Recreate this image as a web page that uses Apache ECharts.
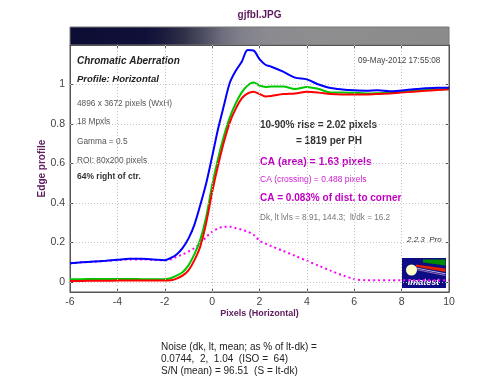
<!DOCTYPE html>
<html><head><meta charset="utf-8">
<script src="https://cdn.jsdelivr.net/npm/echarts@6/dist/echarts.min.js"></script>
<style>html,body{margin:0;padding:0;background:#fff}#c{width:500px;height:384px}</style>
</head><body><div id="c"></div>
<script>
// Data
const xs = [-6,-5.5,-5,-4.5,-4,-3.5,-3,-2.5,-2,-1.75,-1.5,-1.25,-1,-0.75,-0.5,-0.25,0,0.25,0.5,0.75,1,1.25,1.5,1.75,2,2.25,2.5,3,3.5,4,4.5,5,5.5,6,6.5,7,7.5,8,8.5,9,9.5,10];
const blue = [0.095,0.1,0.104,0.108,0.113,0.118,0.118,0.115,0.111,0.122,0.14,0.172,0.22,0.29,0.39,0.5,0.635,0.775,0.895,1.01,1.07,1.115,1.175,1.172,1.128,1.1,1.09,1.065,1.035,1.026,1.0,0.982,0.975,0.971,0.969,0.971,0.966,0.97,0.976,0.981,0.984,0.984];
const green = [0.015,0.015,0.016,0.016,0.016,0.016,0.015,0.014,0.015,0.02,0.033,0.05,0.085,0.14,0.215,0.33,0.49,0.625,0.74,0.835,0.905,0.96,0.995,1.01,0.995,0.988,0.99,0.99,0.977,0.988,0.977,0.96,0.96,0.958,0.955,0.956,0.958,0.962,0.968,0.972,0.976,0.976];
const red = [0.006,0.006,0.007,0.007,0.008,0.008,0.008,0.008,0.008,0.009,0.018,0.033,0.06,0.11,0.18,0.3,0.455,0.59,0.71,0.81,0.878,0.93,0.955,0.964,0.952,0.94,0.942,0.952,0.955,0.963,0.959,0.952,0.95,0.95,0.95,0.952,0.955,0.959,0.964,0.968,0.972,0.976];
const magenta = [0.095,0.1,0.103,0.107,0.111,0.115,0.115,0.113,0.11,0.115,0.128,0.14,0.155,0.172,0.196,0.228,0.255,0.272,0.28,0.28,0.273,0.265,0.255,0.24,0.21,0.195,0.182,0.158,0.133,0.108,0.083,0.058,0.035,0.015,0.01,0.01,0.01,0.01,0.01,0.01,0.01,0.01];
const xTicks = [-6,-4,-2,0,2,4,6,8,10];
const yTicks = [0,0.2,0.4,0.6,0.8,1];
const yTickLabels = ['0','0.2','0.4','0.6','0.8','1'];
const gridX = [-4,-2,0,2,4,6,8];

const FONT = '"Liberation Sans", Arial, sans-serif';
const chart = echarts.init(document.getElementById('c'), null, {renderer:'canvas'});
const pair = arr => xs.map((x,i)=>[x, arr[i]]);
const axisCol = '#555';
const gridLine = {color:'#c4c4c4', width:1, type:[1,2]};

const txt = (x,y,text,opt) => ({type:'text', x, y, silent:true, style:Object.assign({text, fontFamily:FONT, fontSize:8, fill:'#444', verticalAlign:'middle', textAlign:'left'}, opt||{})});

chart.setOption({
  animation:false,
  backgroundColor:'#fff',
  grid:{left:70, top:45, width:379, height:247, show:true, borderColor:axisCol, borderWidth:1, containLabel:false},
  xAxis:[
    {type:'value', min:-6, max:10, interval:2, position:'bottom',
     axisLine:{show:true, onZero:false, lineStyle:{color:axisCol}},
     axisTick:{show:true, inside:true, length:4, lineStyle:{color:axisCol}},
     axisLabel:{color:'#444', fontSize:10.5, fontFamily:FONT, margin:5},
     splitLine:{show:false}},
    {type:'value', min:-6, max:10, interval:2, position:'top',
     axisLine:{show:true, onZero:false, lineStyle:{color:axisCol}},
     axisTick:{show:true, inside:true, length:4, lineStyle:{color:axisCol}},
     axisLabel:{show:false}, splitLine:{show:false}}
  ],
  yAxis:[
    {type:'value', min:-0.05, max:1.2, position:'left',
     axisLine:{show:true, onZero:false, lineStyle:{color:axisCol}},
     axisTick:{show:true, inside:true, length:4, customValues:yTicks, lineStyle:{color:axisCol}},
     axisLabel:{color:'#444', fontSize:10.5, fontFamily:FONT, margin:5, customValues:yTicks,
       formatter:v=>{const i=yTicks.findIndex(t=>Math.abs(t-v)<1e-9); return i>=0?yTickLabels[i]:'';}},
     splitLine:{show:false}},
    {type:'value', min:-0.05, max:1.2, position:'right',
     axisLine:{show:true, onZero:false, lineStyle:{color:axisCol}},
     axisTick:{show:true, inside:true, length:4, customValues:yTicks, lineStyle:{color:axisCol}},
     axisLabel:{show:false}, splitLine:{show:false}}
  ],
  series:[
    {type:'line', name:'grid', data:[], silent:true, z:1,
     markLine:{silent:true, symbol:'none', label:{show:false}, lineStyle:gridLine, emphasis:{disabled:true},
       data:[...yTicks.map(v=>({yAxis:v})), ...gridX.map(v=>({xAxis:v}))]}},
    {type:'line', name:'crossing', data:pair(magenta), showSymbol:false, smooth:0.3, z:2,
     lineStyle:{color:'#ff00ff', width:2, type:[2,3]}},
    {type:'line', name:'green', data:pair(green), showSymbol:false, smooth:0.3, z:3,
     lineStyle:{color:'#00c800', width:2}},
    {type:'line', name:'red', data:pair(red), showSymbol:false, smooth:0.3, z:4,
     lineStyle:{color:'#ff0000', width:2}},
    {type:'line', name:'blue', data:pair(blue), showSymbol:false, smooth:0.3, z:5,
     lineStyle:{color:'#0000ff', width:2}}
  ],
  graphic:[
    // edge image strip above the plot
    {type:'rect', shape:{x:70, y:27, width:379, height:18}, silent:true,
     style:{stroke:'#777', lineWidth:1, fill:new echarts.graphic.LinearGradient(0,0,1,0,[
       {offset:0,color:'#0d0d33'},{offset:0.2,color:'#10103a'},{offset:0.25,color:'#1c1c3e'},
       {offset:0.3,color:'#30304a'},{offset:0.35,color:'#4c4c60'},{offset:0.4,color:'#6c6c7c'},
       {offset:0.45,color:'#80808c'},{offset:0.52,color:'#8a8a90'},{offset:0.65,color:'#8e8e90'},{offset:1,color:'#8b8b8b'}])}},
    txt(259.5, 15.5, 'gjfbl.JPG', {textAlign:'center', fontSize:10, fontWeight:'bold', fill:'#5c1a5c'}),
    txt(77, 61.5, 'Chromatic Aberration', {fontSize:10, fontWeight:'bold', fontStyle:'italic', fill:'#222'}),
    txt(77, 79, 'Profile: Horizontal', {fontSize:9.5, fontWeight:'bold', fontStyle:'italic', fill:'#222'}),
    txt(77, 103.5, '4896 x 3672 pixels (WxH)', {fontSize:8.3, fill:'#555'}),
    txt(77, 121.5, '18 Mpxls', {fontSize:8.3, fill:'#555'}),
    txt(77, 141.5, 'Gamma = 0.5', {fontSize:8.3, fill:'#555'}),
    txt(77, 161, 'ROI: 80x200 pixels', {fontSize:8.3, fill:'#555'}),
    txt(77, 177, '64% right of ctr.', {fontSize:8.5, fontWeight:'bold', fill:'#333'}),
    txt(358, 60.5, '09-May-2012 17:55:08', {fontSize:8.2, fill:'#444'}),
    txt(260, 125, '10-90% rise = 2.02 pixels', {fontSize:10, fontWeight:'bold', fill:'#333'}),
    txt(296, 141.5, '= 1819 per PH', {fontSize:10, fontWeight:'bold', fill:'#333'}),
    txt(260, 162, 'CA (area) = 1.63 pixels', {fontSize:10.5, fontWeight:'bold', fill:'#c000c0'}),
    txt(260, 180, 'CA (crossing) = 0.488 pixels', {fontSize:8.5, fill:'#d020d0'}),
    txt(260, 198, 'CA = 0.083% of dist. to corner', {fontSize:10, fontWeight:'bold', fill:'#c000c0'}),
    txt(260, 218, 'Dk, lt lvls = 8.91, 144.3;  lt/dk = 16.2', {fontSize:8.2, fill:'#777'}),
    txt(407, 240, '2.2.3  Pro', {fontStyle:'italic', fill:'#333'}),
    // Imatest logo
    {type:'group', silent:true, children:[
      {type:'rect', shape:{x:402, y:258, width:44, height:30}, style:{fill:'#0c0c84'}},
      {type:'polygon', shape:{points:[[423,259.5],[445.5,259.5],[445.5,265.5],[423,262.5]]}, style:{fill:'#008a00'}},
      {type:'polygon', shape:{points:[[416,264.5],[445.5,268.5],[445.5,272],[416,266.8]]}, style:{fill:'#e02000'}},
      {type:'polyline', shape:{points:[[416,268],[445.5,273.8]]}, style:{stroke:'#e0e0ff', lineWidth:0.8}},
      {type:'polyline', shape:{points:[[416,269.5],[445.5,275.5]]}, style:{stroke:'#c080c0', lineWidth:0.8}},
      {type:'circle', shape:{cx:411.5, cy:270, r:5.5}, style:{fill:'#ffffc8'}},
      {type:'text', x:423.5, y:283, style:{text:'Imatest', fontFamily:FONT, fontSize:9, fontWeight:'bold', fontStyle:'italic', fill:'#fff', textAlign:'center', verticalAlign:'middle'}}
    ]},
    txt(259.5, 313.5, 'Pixels (Horizontal)', {textAlign:'center', fontSize:9, fontWeight:'bold', fill:'#602060'}),
    {type:'text', x:42, y:168.5, rotation:Math.PI/2, silent:true,
     style:{text:'Edge profile', fontFamily:FONT, fontSize:10, fontWeight:'bold', fill:'#602060', textAlign:'center', verticalAlign:'middle'}},
    txt(161, 347.5, 'Noise (dk, lt, mean; as % of lt-dk) =', {fontSize:10, fill:'#222'}),
    txt(161, 359.5, '0.0744,  2,  1.04  (ISO =  64)', {fontSize:10, fill:'#222'}),
    txt(161, 371.5, 'S/N (mean) = 96.51  (S = lt-dk)', {fontSize:10, fill:'#222'})
  ]
});
</script></body></html>
